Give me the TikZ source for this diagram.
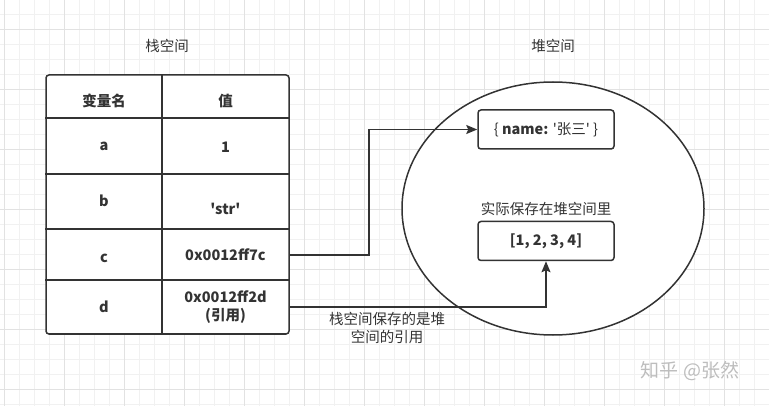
\documentclass[tikz,border=0pt]{standalone}
\usepackage{fontspec}
\newfontfamily\cjk{Noto Sans CJK SC}
\usetikzlibrary{shapes.geometric,arrows.meta,positioning}
\definecolor{ink}{HTML}{333333}
\definecolor{gridlo}{HTML}{F1F1F1}
\definecolor{gridhi}{HTML}{E2E2E2}
\definecolor{mark}{HTML}{BDBDBD}

\begin{document}
\begin{tikzpicture}[x=1pt,y=-1pt,
    every node/.style={font=\cjk\fontsize{14.5}{18}\selectfont, text=ink, inner sep=0pt},
    cell/.style={font=\cjk\fontsize{14.5}{18}\selectfont\bfseries},
    heapbox/.style={draw=ink, line width=1.5pt, rounded corners=3pt, fill=white,
      minimum width=136, minimum height=39, font=\cjk\fontsize{14.5}{18}\selectfont\bfseries},
    conn/.style={draw=ink, line width=1.5pt, -{Stealth[length=11pt,width=9pt,inset=2pt]}},
    rule/.style={draw=ink, line width=1.5pt}]
  \useasboundingbox (0,0) rectangle (769,406);
  % background grid
  \foreach \gx in {4,19,...,769} \draw[gridlo] (\gx,0) -- (\gx,406);
  \foreach \gy in {14,29,...,406} \draw[gridlo] (0,\gy) -- (769,\gy);
  \foreach \gx in {4,64,...,769} \draw[gridhi] (\gx,0) -- (\gx,406);
  \foreach \gy in {29,89,...,406} \draw[gridhi] (0,\gy) -- (769,\gy);

  % stack
  \node (stacktitle) at (167,46) {栈空间};
  \node[rule, fill=white, rounded corners=3pt, minimum width=243, minimum height=259]
    (stack) at (167.5,204.5) {};
  \draw[rule] (stack.north -| 162,0) -- (stack.south -| 162,0);
  \foreach \ry in {118,174,229,280} \draw[rule] (stack.west |- 0,\ry) -- (stack.east |- 0,\ry);

  \node[cell] (keyhead) at (104,101) {变量名};
  \node[cell] (valhead) at (225.5,101) {值};
  \node[cell] (keya) at (104,146) {a};
  \node[cell] (vala) at (225.5,147) {1};
  \node[cell] (keyb) at (104,201) {b};
  \node[cell] (valb) at (225.5,209) {'str'};
  \node[cell] (keyc) at (104,258) {c};
  \node[cell] (valc) at (225.5,255) {0x0012ff7c};
  \node[cell] (keyd) at (104,307) {d};
  \node[cell, align=center] (vald) at (225.5,307.5) {0x0012ff2d\\(引用)};

  % heap
  \node (heaptitle) at (553,46) {堆空间};
  \node[ellipse, draw=ink, line width=1.5pt, fill=white, minimum width=302, minimum height=253]
    (heap) at (553,208.5) {};
  \node[heapbox] (obj) at (546,129.5) {{\mdseries\{} name: {\mdseries'张三'} {\mdseries\}}};
  \node[heapbox] (arr) at (546,241) {[1, 2, 3, 4]};
  \node[above=5pt of arr] (arrnote) {实际保存在堆空间里};

  % references
  \draw[conn] (stack.east |- valc) -- ++(79,0) |- (obj.west);
  \draw[conn] (stack.east |- keyd) -| (arr.south);
  \node[align=center] (refnote) at (387,327.5) {栈空间保存的是堆\\空间的引用};

  \node[text=mark, font=\cjk\fontsize{19}{22}\selectfont] (sign) at (690,371) {知乎 @张然};
\end{tikzpicture}
\end{document}
